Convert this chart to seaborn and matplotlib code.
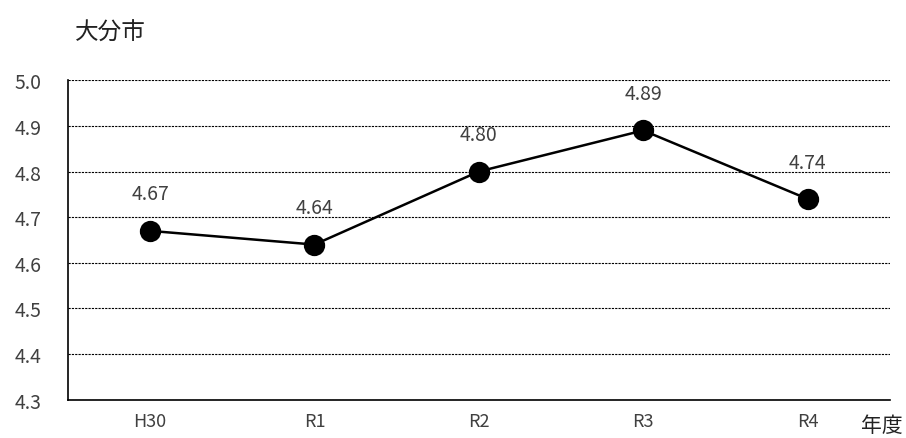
import pandas as pd
import seaborn as sns
import matplotlib.pyplot as plt

# data
years = ["H30", "R1", "R2", "R3", "R4"]
values = [4.67, 4.64, 4.80, 4.89, 4.74]

df = pd.DataFrame({"year": years, "value": values})

sns.set_style("white")
plt.rcParams['font.family'] = ['Noto Sans CJK JP', 'DejaVu Sans']

fig = plt.figure(figsize=(9.06, 4.39), dpi=100)
ax = fig.add_axes([0.075, 0.087, 0.907, 0.728])

sns.pointplot(data=df, x="year", y="value", color="black", markers="o",
              markersize=14, linewidth=1.8, ax=ax)

# value labels above each point
for i, v in enumerate(values):
    ax.annotate(f"{v:.2f}", (i, v), xytext=(0, 19), textcoords="offset points",
                ha="center", va="bottom", fontsize=14, color="#404040")

ax.set_ylim(4.3, 5.0)
ax.set_xlim(-0.5, 4.5)
ax.set_yticks([4.3, 4.4, 4.5, 4.6, 4.7, 4.8, 4.9, 5.0])
ax.set_yticklabels([f"{t:.1f}" for t in [4.3, 4.4, 4.5, 4.6, 4.7, 4.8, 4.9, 5.0]])
ax.yaxis.grid(True, linestyle=(0, (2, 1)), color="black", linewidth=0.8)
ax.xaxis.grid(False)
ax.set_axisbelow(True)
ax.tick_params(axis="y", length=0, labelsize=14, colors="#404040", pad=19)
ax.tick_params(axis="x", length=0, labelsize=13, colors="#404040", pad=9)
ax.set_xlabel("")
ax.set_ylabel("")

for s in ["top", "right"]:
    ax.spines[s].set_visible(False)
for s in ["left", "bottom"]:
    ax.spines[s].set_color("black")
    ax.spines[s].set_linewidth(1.2)

fig.text(0.083, 0.925, "大分市", fontsize=17, ha="left", va="center", color="#222222")
fig.text(0.996, 0.03, "年度", fontsize=15, ha="right", va="center", color="#222222")

fig.savefig("out.png", dpi=100)
